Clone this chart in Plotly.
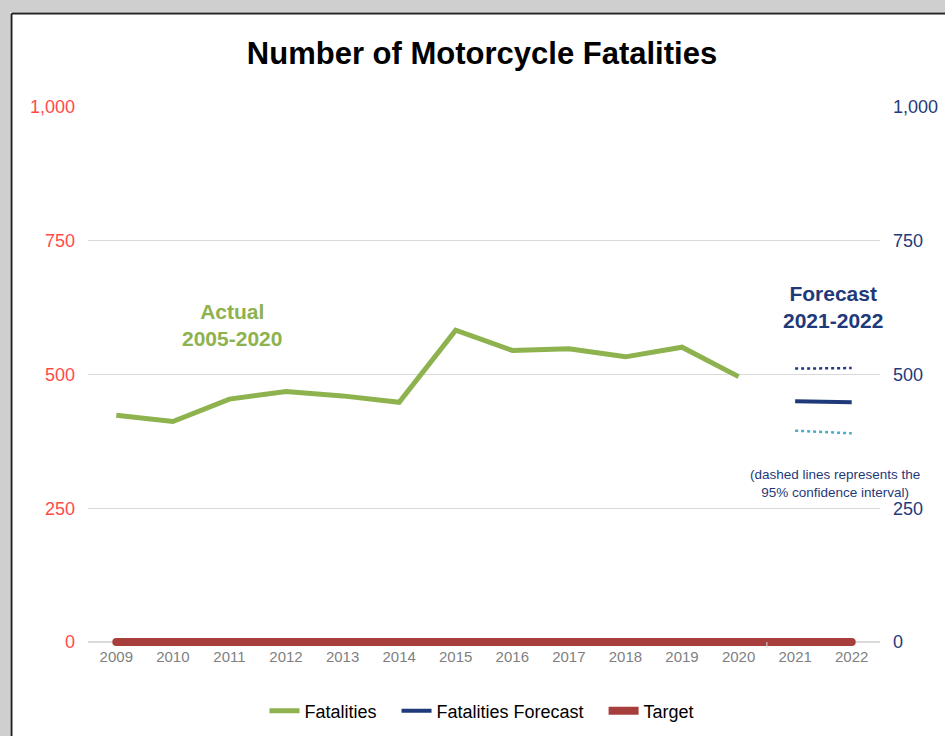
import plotly.graph_objects as go

# ---------------------------------------------------------------- #
# Data                                                               #
# ---------------------------------------------------------------- #

years = ["2009", "2010", "2011", "2012", "2013", "2014", "2015",
         "2016", "2017", "2018", "2019", "2020", "2021", "2022"]

actual_years = years[:12]
fatalities = [424, 412, 454, 468, 460, 448, 583, 545, 548, 533, 551, 496]

forecast_years = ["2021", "2022"]
forecast = [450, 448]
forecast_upper = [511, 512]
forecast_lower = [395, 390]

target = [0] * len(years)

# ---------------------------------------------------------------- #
# Styling                                                            #
# ---------------------------------------------------------------- #

W, H = 945, 736
Y_LO = -7.5                      # a little room under zero so the target bar is not clipped
PX_PER_UNIT = 535 / 1000
PLOT_L, PLOT_R, PLOT_T = 88, 880, 107
ZERO_PX = 642
PLOT_B = ZERO_PX - Y_LO * PX_PER_UNIT

GREEN = "#8DB24E"
NAVY = "#1F3A7A"
TEAL = "#4BACC6"
RED = "#A63F3B"
AXIS_RED = "#FF4A4A"
GRID = "#D9D9D9"
TICK_GREY = "#7F7F7F"

SANS = "Liberation Sans, Arial, sans-serif"
NBSP = "\u00a0"


def px_x(px):
    return (px - PLOT_L) / (PLOT_R - PLOT_L)


def px_y(py):
    return (PLOT_B - py) / (PLOT_B - PLOT_T)


fig = go.Figure()

fig.add_trace(go.Scatter(
    x=actual_years, y=fatalities, name="Fatalities" + NBSP * 3, mode="lines",
    line=dict(color=GREEN, width=5),
))
fig.add_trace(go.Scatter(
    x=forecast_years, y=forecast, name="Fatalities Forecast" + NBSP * 3,
    mode="lines", line=dict(color=NAVY, width=4), yaxis="y2",
))
fig.add_trace(go.Scatter(
    x=forecast_years, y=forecast_upper, mode="lines", showlegend=False,
    line=dict(color=NAVY, width=2.5, dash="dot"), yaxis="y2",
))
fig.add_trace(go.Scatter(
    x=forecast_years, y=forecast_lower, mode="lines", showlegend=False,
    line=dict(color=TEAL, width=2.5, dash="dot"), yaxis="y2",
))
fig.add_trace(go.Scatter(
    x=years, y=target, name="Target", mode="lines",
    line=dict(color=RED, width=8),
))
# round end caps for the target bar
fig.add_trace(go.Scatter(
    x=[years[0], years[-1]], y=[target[0], target[-1]], mode="markers",
    showlegend=False, marker=dict(color=RED, size=8, line_width=0),
    cliponaxis=False,
))

# divider tick between actual and forecast periods
split = len(actual_years) - 0.5
fig.add_shape(type="line", xref="x", yref="paper", x0=split, x1=split,
              y0=px_y(ZERO_PX), y1=px_y(ZERO_PX + 6), line=dict(color=GRID, width=1))

# window frame around the slide snapshot
fig.add_shape(type="rect", xref="paper", yref="paper",
              x0=px_x(0), x1=px_x(10), y0=px_y(H), y1=px_y(0),
              fillcolor="#CFCFCF", line_width=0, layer="above")
fig.add_shape(type="rect", xref="paper", yref="paper",
              x0=px_x(0), x1=px_x(W), y0=px_y(12), y1=px_y(0),
              fillcolor="#CFCFCF", line_width=0, layer="above")
fig.add_shape(type="line", xref="paper", yref="paper",
              x0=px_x(11.5), x1=px_x(11.5), y0=px_y(H), y1=px_y(13.5),
              line=dict(color="#222222", width=2), layer="above")
fig.add_shape(type="line", xref="paper", yref="paper",
              x0=px_x(11.5), x1=px_x(W), y0=px_y(13.5), y1=px_y(13.5),
              line=dict(color="#222222", width=2), layer="above")

_note = dict(xref="paper", yref="paper", showarrow=False,
             xanchor="center", yanchor="middle")
fig.add_annotation(
    text="<b>Actual<br>2005-2020</b>", x=px_x(232), y=px_y(325),
    font=dict(family=SANS, size=21, color=GREEN), **_note,
)
fig.add_annotation(
    text="<b>Forecast<br>2021-2022</b>", x=px_x(833), y=px_y(307),
    font=dict(family=SANS, size=21, color=NAVY), **_note,
)
fig.add_annotation(
    text="(dashed lines represents the<br>95% confidence interval)",
    x=px_x(835), y=px_y(484),
    font=dict(family=SANS, size=13.5, color=NAVY), **_note,
)

tickvals = [0, 250, 500, 750, 1000]
ticktext = ["0", "250", "500", "750", "1,000"]

fig.update_layout(
    width=W,
    height=H,
    margin=dict(l=PLOT_L, r=W - PLOT_R, t=PLOT_T, b=H - PLOT_B, autoexpand=False),
    paper_bgcolor="white",
    plot_bgcolor="white",
    title=dict(
        text="<b>Number of Motorcycle Fatalities</b>",
        x=482 / W, xref="container", xanchor="center",
        y=1 - 53 / H, yref="container", yanchor="middle",
        font=dict(family=SANS, size=31, color="black"),
    ),
    xaxis=dict(
        type="category", categoryorder="array", categoryarray=years,
        range=[-0.5, len(years) - 0.5], automargin=False,
        showgrid=False, showline=False, zeroline=False,
        ticks="", tickfont=dict(family=SANS, size=15, color=TICK_GREY),
    ),
    yaxis=dict(
        range=[Y_LO, 1000], tickvals=tickvals, ticktext=ticktext,
        showgrid=True, gridcolor=GRID, zeroline=True, zerolinecolor=GRID,
        zerolinewidth=1.5, showline=False, automargin=False,
        ticklabelstandoff=12,
        tickfont=dict(family=SANS, size=18, color=AXIS_RED),
    ),
    yaxis2=dict(
        range=[Y_LO, 1000], tickvals=tickvals, ticktext=ticktext,
        overlaying="y", side="right", showgrid=False, zeroline=False,
        automargin=False, ticklabelstandoff=12,
        tickfont=dict(family=SANS, size=18, color=NAVY),
    ),
    legend=dict(
        orientation="h", x=482 / W, xref="container", xanchor="center",
        y=1 - 711 / H, yref="container", yanchor="middle",
        font=dict(family=SANS, size=18, color="black"),
        tracegroupgap=0,
    ),
    showlegend=True,
    hovermode=False,
)

# drop the browser's default body margin so the figure sits at the page origin
fig.write_html(
    "out.html",
    config={"displayModeBar": False},
    post_script="document.body.style.margin = '0';",
)
